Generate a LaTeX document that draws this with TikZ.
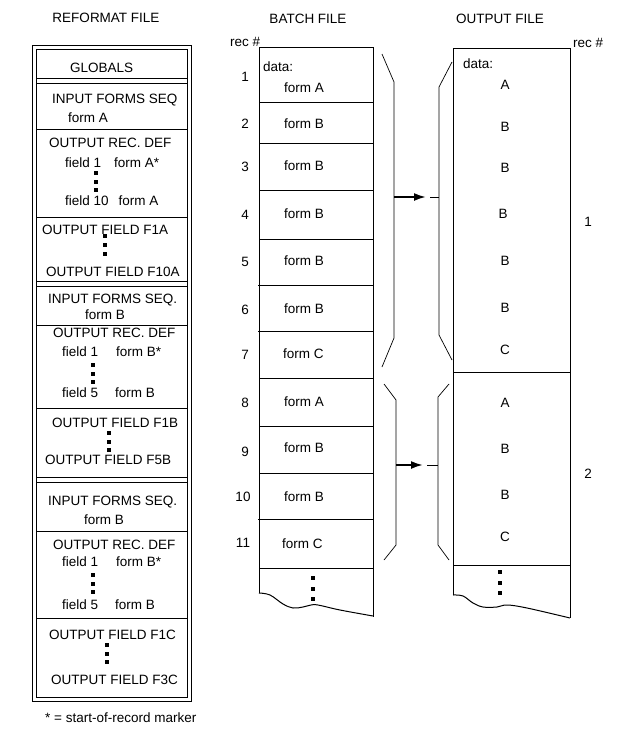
\documentclass[tikz,border=0pt]{standalone}
\usepackage{fontspec}
\setmainfont{Liberation Sans}
\usetikzlibrary{arrows.meta, positioning}

\newcommand{\sqdots}[3]{%
	\fill (#1-2, #2-2) rectangle ++(4, 4);
	\fill (#1-2, #2-2+#3) rectangle ++(4, 4);
	\fill (#1-2, #2-2+2*#3) rectangle ++(4, 4);
}

\begin{document}
\begin{tikzpicture}[
		x=1pt, y=-1pt,
		txt/.style={inner sep=0pt, font=\fontsize{13.5}{16}\selectfont},
		ltxt/.style={txt, anchor=west},
		rule/.style={line width=1pt},
		bracket/.style={line width=0.7pt},
		flow/.style={line width=2pt, -{Latex[length=12pt, width=8pt]}}
		]
		\useasboundingbox (0, 0) rectangle (638, 738);

		% titles
		\node (reformat title) at (106, 18) [txt] {REFORMAT FILE};
		\node (batch title) at (308, 19) [txt] {BATCH FILE};
		\node (output title) at (500, 19) [txt] {OUTPUT FILE};

		% reformat file
		\draw[rule] (32, 46) rectangle (191, 701);
		\draw[rule] (36, 50) rectangle (187, 697);
		\draw[rule] (36, 79) -- (187, 79) (36, 84) -- (187, 84)
			(36, 130) -- (187, 130) (36, 217) -- (187, 217)
			(36, 281) -- (187, 281) (36, 286) -- (187, 286)
			(36, 325) -- (187, 325) (36, 408) -- (187, 408)
			(36, 477) -- (187, 477) (36, 482) -- (187, 482)
			(36, 531) -- (187, 531) (36, 618) -- (187, 618);

		\node (globals) at (70, 68) [ltxt] {GLOBALS};
		\node (seq a) at (52, 100) [ltxt] {INPUT FORMS SEQ};
		\node (seq a form) at (68, 118) [ltxt] {form A};
		\node (def a) at (49, 143) [ltxt] {OUTPUT REC. DEF};
		\node (def a first) at (65, 163) [ltxt] {field 1\hspace{13pt}form A*};
		\sqdots{96}{173}{8.5}
		\node (def a last) at (65, 201) [ltxt] {field 10\hspace{10pt}form A};
		\node (field f1a) at (42, 230) [ltxt] {OUTPUT FIELD F1A};
		\sqdots{105}{236}{9}
		\node (field f10a) at (46, 272) [ltxt] {OUTPUT FIELD F10A};
		\node (seq b) at (48, 300) [ltxt] {INPUT FORMS SEQ.};
		\node (seq b form) at (85, 315) [ltxt] {form B};
		\node (def b) at (53, 333) [ltxt] {OUTPUT REC. DEF};
		\node (def b first) at (62, 352) [ltxt] {field 1\hspace{18pt}form B*};
		\sqdots{93}{365}{8.5}
		\node (def b last) at (62, 393) [ltxt] {field 5\hspace{17pt}form B};
		\node (field f1b) at (52, 423) [ltxt] {OUTPUT FIELD F1B};
		\sqdots{109}{433}{8.5}
		\node (field f5b) at (45, 460) [ltxt] {OUTPUT FIELD F5B};
		\node (seq c) at (48, 502) [ltxt] {INPUT FORMS SEQ.};
		\node (seq c form) at (84, 520) [ltxt] {form B};
		\node (def c) at (53, 545) [ltxt] {OUTPUT REC. DEF};
		\node (def c first) at (62, 562) [ltxt] {field 1\hspace{18pt}form B*};
		\sqdots{93}{575}{8.5}
		\node (def c last) at (62, 605) [ltxt] {field 5\hspace{17pt}form B};
		\node (field f1c) at (49, 635) [ltxt] {OUTPUT FIELD F1C};
		\sqdots{107}{645}{8.5}
		\node (field f3c) at (51, 680) [ltxt] {OUTPUT FIELD F3C};
		\node (marker note) at (45, 718) [ltxt] {* = start-of-record marker};

		% batch file
		\draw[rule] (259, 593) -- (259, 48) -- (373, 48) -- (373, 617);
		\draw[rule] plot[smooth, tension=0.6] coordinates {(259, 593) (270, 595) (283, 604) (293, 608) (303, 607) (311, 605) (318, 605) (340, 610) (373, 616)};
		\draw[rule] (259, 103) -- (373, 103) (259, 144) -- (373, 144)
			(259, 190) -- (373, 190) (259, 239) -- (373, 239)
			(258, 285) -- (373, 285) (258, 331) -- (373, 331)
			(259, 378) -- (373, 378) (259, 426) -- (373, 426)
			(259, 473) -- (373, 473) (258, 519) -- (373, 519)
			(259, 568) -- (373, 568);
		\sqdots{313}{578}{10.5}

		\node (batch rec) at (230, 42) [ltxt] {rec \#};
		\node (rec 1) at (245, 77) [txt] {1};
		\node (rec 2) at (245, 124) [txt] {2};
		\node (rec 3) at (245, 167) [txt] {3};
		\node (rec 4) at (245, 215) [txt] {4};
		\node (rec 5) at (245, 262) [txt] {5};
		\node (rec 6) at (245, 310) [txt] {6};
		\node (rec 7) at (245, 355) [txt] {7};
		\node (rec 8) at (245, 403) [txt] {8};
		\node (rec 9) at (245, 452) [txt] {9};
		\node (rec 10) at (243, 497) [txt] {10};
		\node (rec 11) at (243, 543) [txt] {11};

		\node (batch data) at (263, 67) [ltxt] {data:};
		\node (batch 1) at (284, 88) [ltxt] {form A};
		\node (batch 2) at (284, 124) [ltxt] {form B};
		\node (batch 3) at (284, 166) [ltxt] {form B};
		\node (batch 4) at (284, 214) [ltxt] {form B};
		\node (batch 5) at (284, 261) [ltxt] {form B};
		\node (batch 6) at (284, 309) [ltxt] {form B};
		\node (batch 7) at (283, 354) [ltxt] {form C};
		\node (batch 8) at (284, 402) [ltxt] {form A};
		\node (batch 9) at (284, 448) [ltxt] {form B};
		\node (batch 10) at (284, 497) [ltxt] {form B};
		\node (batch 11) at (282, 544) [ltxt] {form C};

		% brackets and arrows
		\draw[bracket] (382, 54) -- (394, 82) -- (394, 338) -- (382, 367);
		\draw[bracket] (452, 62) -- (439, 87) -- (439, 335) -- (452, 360);
		\draw[bracket] (384, 384) -- (396, 400) -- (396, 545) -- (384, 560);
		\draw[bracket] (449, 384) -- (438, 397) -- (438, 545) -- (449, 560);

		\coordinate (grp1 from) at (394, 197);
		\coordinate (grp1 tip) at (426, 197);
		\coordinate (grp1 gap) at (430, 197);
		\coordinate (grp1 to) at (439, 197);
		\draw[flow] (grp1 from) -- (grp1 tip);
		\draw[rule] (grp1 gap) -- (grp1 to);

		\coordinate (grp2 from) at (396, 465);
		\coordinate (grp2 tip) at (423, 465);
		\coordinate (grp2 gap) at (427, 465);
		\coordinate (grp2 to) at (438, 465);
		\draw[flow] (grp2 from) -- (grp2 tip);
		\draw[rule] (grp2 gap) -- (grp2 to);

		% output file
		\draw[rule] (453, 595) -- (453, 49) -- (570, 49) -- (570, 618);
		\draw[rule] plot[smooth, tension=0.6] coordinates {(453, 595) (463, 596) (473, 603) (483, 607) (497, 607) (507, 605) (527, 608) (570, 618)};
		\draw[rule] (453, 372) -- (570, 372) (453, 565) -- (570, 565);
		\sqdots{500}{572}{10.5}

		\node (output rec) at (573, 43) [ltxt] {rec \#};
		\node (out rec 1) at (588, 222) [txt] {1};
		\node (out rec 2) at (588, 474) [txt] {2};

		\node (out data) at (463, 64) [ltxt] {data:};
		\node (out 1) at (505, 85) [txt] {A};
		\node (out 2) at (505, 127) [txt] {B};
		\node (out 3) at (505, 168) [txt] {B};
		\node (out 4) at (503, 214) [txt] {B};
		\node (out 5) at (505, 261) [txt] {B};
		\node (out 6) at (505, 308) [txt] {B};
		\node (out 7) at (505, 350) [txt] {C};
		\node (out 8) at (505, 403) [txt] {A};
		\node (out 9) at (505, 449) [txt] {B};
		\node (out 10) at (505, 495) [txt] {B};
		\node (out 11) at (505, 537) [txt] {C};
	\end{tikzpicture}
\end{document}
